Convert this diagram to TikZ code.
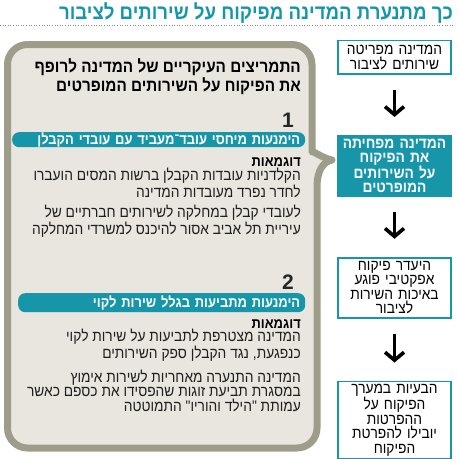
\documentclass[tikz,border=0pt]{standalone}
\usepackage{fontspec}
\setmainfont{Liberation Sans}
\newfontfamily\hebfont[Script=Hebrew, FakeStretch=0.9]{Liberation Sans}
\TeXXeTstate=1
\usetikzlibrary{positioning, arrows.meta}
\definecolor{PikuachTeal}{RGB}{22,150,168}
\definecolor{FrameGray}{RGB}{158,157,138}
\definecolor{FrameFill}{RGB}{232,230,222}
\newcommand{\heb}[1]{\beginR #1\endR}

\begin{document}
\begin{tikzpicture}[
  x=1pt, y=-1pt,
  node distance=60pt,
  every node/.style={font=\hebfont},
  outbox/.style={rectangle, draw=PikuachTeal, line width=1.8pt, fill=white, text width=111pt, align=center, minimum width=113pt, inner sep=1pt, font=\hebfont\fontsize{15.3}{14.5}\selectfont},
  tealbox/.style={outbox, fill=PikuachTeal, text=white, font=\hebfont\bfseries\fontsize{15.3}{14}\selectfont},
  bar/.style={rectangle, rounded corners=7pt, fill=PikuachTeal, text=white, align=right, inner xsep=5pt, inner ysep=0pt, anchor=north west, font=\hebfont\bfseries\fontsize{14.4}{15}\selectfont},
  headtext/.style={anchor=base east, align=right, inner sep=0pt, font=\hebfont\bfseries\fontsize{17}{16}\selectfont},
  bodytext/.style={anchor=base east, align=right, inner sep=0pt, text=black!88, font=\hebfont\fontsize{15.3}{14.5}\selectfont},
  numtext/.style={anchor=base east, inner sep=0pt, font=\bfseries\fontsize{21}{21}\selectfont, text=black!85},
  arr/.style={-{Straight Barb[length=8pt,width=19pt]}, line width=3.6pt, shorten <=15pt, shorten >=18pt}
]
\useasboundingbox (0,0) rectangle (458,459);

% title and dotted rule
\node[anchor=base east, inner sep=0pt, text=PikuachTeal, font=\hebfont\bfseries\fontsize{20.7}{21}\selectfont] (title) at (453,19) {\heb{כך מתנערת המדינה מפיקוח על שירותים לציבור}};
\coordinate (rule west) at (0,25);
\coordinate (rule east) at (455,25);
\draw[black!45, line width=1pt, dash pattern=on 1pt off 1.6pt] (rule west) -- (rule east);

% frame with brace
\draw[draw=FrameGray, fill=FrameFill, line width=7pt, line join=round]
  (160,448) [rounded corners=20pt] -- (7.5,448) -- (7.5,44.5) -- (312,44.5) -- (312,132)
  [sharp corners] .. controls (312,150) and (322,158) .. (332,160)
  .. controls (323,162) and (317,170) .. (317,188)
  [rounded corners=20pt] -- (317,448) -- cycle;

% right column
\node[outbox, minimum height=33.5pt] (privat) at (394.5,57.3) {\heb{המדינה מפריטה}\\\heb{שירותים לציבור}};
\node[tealbox, minimum height=60pt, below=of privat] (reduce) {\heb{המדינה מפחיתה}\\\heb{את הפיקוח}\\\heb{על השירותים}\\\heb{המופרטים}};
\node[outbox, minimum height=60pt, below=of reduce] (lack) {\heb{היעדר פיקוח}\\\heb{אפקטיבי פוגע}\\\heb{באיכות השירות}\\\heb{לציבור}};
\node[outbox, minimum height=77pt, below=62pt of lack] (problems) {\heb{הבעיות במערך}\\\heb{הפיקוח על}\\\heb{ההפרטות}\\\heb{יובילו להפרטת}\\\heb{הפיקוח}};
\draw[arr] (privat) -- (reduce);
\draw[arr] (reduce) -- (lack);
\draw[arr] (lack) -- (problems);

% incentives
\node[headtext] (incent) at (301,91) {\heb{התמריצים העיקריים של המדינה לרופף}\\\heb{את הפיקוח על השירותים המופרטים}};

\node[numtext] (num1) at (294,127) {1};
\node[bar, text width=283pt, minimum height=15pt] (bar1) at (12,132) {\heb{הימנעות מיחסי עובד־מעביד עם עובדי הקבלן}};
\node[headtext, font=\hebfont\bfseries\fontsize{14.4}{14}\selectfont] (ex1) at (301,166) {\heb{דוגמאות}};
\node[bodytext] (ex1a) at (301,197) {\heb{הקלדניות עובדות הקבלן ברשות המסים הועברו}\\\heb{לחדר נפרד מעובדות המדינה}};
\node[bodytext] (ex1b) at (301,234) {\heb{לעובדי קבלן במחלקה לשירותים חברתיים של}\\\heb{עיריית תל אביב אסור להיכנס למשרדי המחלקה}};

\node[numtext] (num2) at (294,289) {2};
\node[bar, text width=277pt, minimum height=19pt] (bar2) at (18,293) {\heb{הימנעות מתביעות בגלל שירות לקוי}};
\node[headtext, font=\hebfont\bfseries\fontsize{14.4}{14}\selectfont] (ex2) at (301,328) {\heb{דוגמאות}};
\node[bodytext] (ex2a) at (301,358) {\heb{המדינה מצטרפת לתביעות על שירות לקוי}\\\heb{כנפגעת, נגד הקבלן ספק השירותים}};
\node[bodytext] (ex2b) at (301,411) {\heb{המדינה התנערה מאחריות לשירות אימוץ}\\\heb{במסגרת תביעת זוגות שהפסידו את כספם כאשר}\\\heb{עמותת "הילד והוריו" התמוטטה}};
\end{tikzpicture}
\end{document}
